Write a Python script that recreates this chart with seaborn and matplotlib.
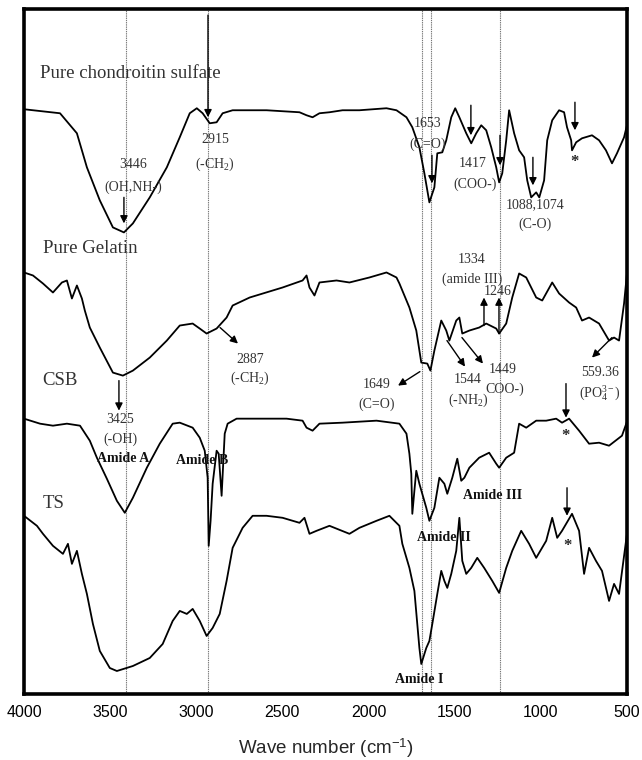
import matplotlib
matplotlib.use("Agg")
import matplotlib.pyplot as plt
import seaborn as sns
import pandas as pd

# FTIR spectra (wavenumber in cm-1, transmittance in arbitrary stacked units)
cs_wn = [4000, 3791, 3693, 3635, 3560, 3484, 3420, 3368, 3270, 3171, 3096, 3038, 2997, 2963,
         2922, 2882, 2847, 2789, 2592, 2401, 2360, 2325, 2285, 2227, 2151, 2053, 1896, 1838,
         1780, 1746, 1705, 1676, 1647, 1618, 1601, 1572, 1549, 1520, 1497, 1473, 1433, 1404,
         1375, 1346, 1317, 1288, 1259, 1242, 1224, 1201, 1184, 1155, 1126, 1097, 1079, 1056,
         1027, 1009, 981, 963, 934, 894, 865, 848, 824, 819, 795, 761, 703, 662, 622, 587,
         558, 517, 500]
cs_int = [584, 580, 560, 526, 493, 466, 461, 470, 496, 526, 556, 580, 585, 580,
          570, 571, 580, 583, 583, 581, 578, 576, 580, 581, 583, 583, 585, 583,
          576, 566, 546, 520, 491, 506, 540, 541, 553, 576, 585, 576, 560, 550,
          560, 568, 563, 546, 526, 511, 520, 553, 583, 560, 543, 536, 513, 496,
          501, 496, 513, 553, 573, 583, 581, 566, 553, 543, 551, 555, 558, 553, 543, 530,
          540, 556, 568]

gel_wn = [4000, 3948, 3890, 3832, 3780, 3751, 3722, 3693, 3664, 3647, 3618, 3560, 3484, 3426,
          3368, 3270, 3171, 3096, 3021, 2980, 2940, 2882, 2824, 2789, 2690, 2499, 2383, 2360,
          2343, 2314, 2285, 2186, 2111, 1995, 1896, 1838, 1821, 1763, 1723, 1694, 1659, 1641,
          1618, 1578, 1549, 1531, 1491, 1473, 1456, 1415, 1358, 1317, 1259, 1242, 1201, 1166,
          1126, 1085, 1027, 992, 934, 894, 836, 795, 761, 720, 662, 604, 575, 546, 517, 500]
gel_int = [421, 418, 410, 401, 411, 413, 395, 408, 395, 383, 366, 346, 321, 318,
           323, 336, 353, 368, 370, 365, 360, 365, 376, 388, 396, 406, 413, 418,
           406, 398, 411, 413, 411, 416, 421, 416, 410, 386, 363, 331, 330, 323,
           343, 373, 363, 353, 373, 376, 360, 363, 366, 370, 365, 360, 370, 396,
           420, 416, 396, 393, 411, 400, 391, 386, 373, 376, 370, 353, 356, 353, 390, 420]

csb_wn = [4000, 3907, 3832, 3751, 3675, 3618, 3577, 3519, 3461, 3415, 3368, 3287, 3212, 3137,
          3096, 3021, 2980, 2951, 2934, 2928, 2917, 2905, 2882, 2870, 2853, 2835, 2818, 2766,
          2476, 2383, 2360, 2325, 2285, 2151, 1954, 1821, 1780, 1763, 1752, 1746, 1734, 1723,
          1705, 1665, 1647, 1618, 1589, 1560, 1543, 1514, 1485, 1462, 1444, 1415, 1358, 1300,
          1259, 1242, 1201, 1155, 1143, 1126, 1085, 1027, 969, 911, 877, 836, 778, 720, 662,
          604, 529, 500]
csb_int = [275, 270, 268, 270, 268, 253, 236, 215, 193, 181, 196, 226, 250, 270,
           271, 266, 256, 243, 216, 148, 173, 210, 243, 240, 198, 260, 270, 275,
           275, 273, 266, 263, 270, 271, 273, 270, 260, 240, 220, 180, 203, 223,
           210, 186, 173, 186, 216, 210, 200, 216, 235, 213, 216, 226, 236, 241,
           230, 226, 236, 241, 253, 270, 266, 273, 273, 275, 271, 275, 263, 250, 251,
           248, 258, 272]

ts_wn = [4000, 3925, 3890, 3832, 3774, 3745, 3722, 3693, 3664, 3635, 3600, 3560, 3502, 3461,
         3368, 3270, 3195, 3137, 3096, 3055, 3021, 2980, 2940, 2905, 2864, 2824, 2789, 2731,
         2673, 2592, 2499, 2401, 2372, 2343, 2302, 2227, 2111, 2053, 1954, 1879, 1821, 1804,
         1763, 1734, 1705, 1694, 1665, 1647, 1630, 1601, 1578, 1560, 1543, 1520, 1491, 1473,
         1456, 1433, 1404, 1369, 1329, 1282, 1242, 1201, 1166, 1114, 1068, 1027, 969, 934,
         905, 877, 819, 778, 749, 720, 680, 645, 604, 575, 546, 500]
ts_int = [178, 168, 160, 148, 140, 150, 130, 143, 120, 100, 70, 43, 26, 23,
          28, 36, 50, 73, 83, 80, 85, 73, 58, 66, 80, 113, 146, 166,
          178, 178, 176, 171, 176, 160, 163, 168, 160, 166, 173, 178, 168, 150,
          126, 103, 46, 30, 46, 53, 70, 100, 123, 113, 106, 120, 143, 176,
          133, 120, 126, 136, 126, 113, 101, 126, 143, 163, 150, 136, 153, 176,
          156, 163, 180, 163, 120, 146, 133, 123, 93, 110, 100, 160]

sample_names = ["Pure chondroitin sulfate", "Pure Gelatin", "CSB", "TS"]
reference_lines = [3410, 2930, 1690, 1635, 1235]
x_ticks = [4000, 3500, 3000, 2500, 2000, 1500, 1000, 500]

frames = []
for name, wn, val in zip(sample_names,
                         [cs_wn, gel_wn, csb_wn, ts_wn],
                         [cs_int, gel_int, csb_int, ts_int]):
    frames.append(pd.DataFrame({"wavenumber": wn, "intensity": val, "sample": name}))
spectra = pd.concat(frames, ignore_index=True)

sns.set_style("white")
plt.rcParams["font.family"] = ["Liberation Serif", "DejaVu Serif"]
plt.rcParams["mathtext.fontset"] = "custom"
plt.rcParams["mathtext.rm"] = "Liberation Serif"
plt.rcParams["mathtext.it"] = "Liberation Serif:italic"
plt.rcParams["mathtext.bf"] = "Liberation Serif:bold"
plt.rcParams["mathtext.sf"] = "Liberation Sans"

fig = plt.figure(figsize=(6.42, 7.6), dpi=100)
ax = fig.add_axes([0.0374, 0.0868, 0.9392, 0.9012])

for x in reference_lines:
    ax.axvline(x, color="#777777", lw=0.8, ls=(0, (1.2, 0.8)), zorder=1)

sns.lineplot(data=spectra, x="wavenumber", y="intensity", units="sample",
             estimator=None, sort=False, color="black", lw=1.3, ax=ax, zorder=3)

ax.set_xlim(4000, 500)
ax.set_ylim(0, 684)
ax.set_xticks(x_ticks)
ax.set_xticklabels([str(t) for t in x_ticks], family="Liberation Sans", fontsize=11.5)
ax.set_yticks([])
ax.set_ylabel("")
ax.set_xlabel(r"Wave number (cm$^{\mathsf{-1}}$)", family="Liberation Sans",
              fontsize=13.5, labelpad=12)
ax.tick_params(axis="x", direction="in", length=5, width=1.5, pad=8, colors="black")
for sp in ax.spines.values():
    sp.set_linewidth(2.6)
    sp.set_color("black")

txt = "#333333"
lab_fs = 13.5
ann_fs = 10

# sample names
ax.text(3907, 620, "Pure chondroitin sulfate", fontsize=lab_fs, color=txt, va="center")
ax.text(3890, 445, "Pure Gelatin", fontsize=lab_fs, color=txt, va="center")
ax.text(3896, 313, "CSB", fontsize=lab_fs, color=txt, va="center")
ax.text(3890, 190, "TS", fontsize=lab_fs, color=txt, va="center")

arrow = dict(arrowstyle="-|>", color="black", lw=1.0, mutation_scale=11,
             shrinkA=0, shrinkB=0)


def arr(x0, y0, x1, y1):
    ax.annotate("", xy=(x1, y1), xytext=(x0, y0), arrowprops=arrow, zorder=4)


def label(x, y, s):
    ax.text(x, y, s, fontsize=ann_fs, color=txt, ha="center",
            va="center_baseline", zorder=5)


def star(x, y):
    ax.text(x, y, "*", fontsize=12, fontweight="bold", ha="center", va="center")


# chondroitin sulfate bands
label(3367, 530, "3446")
label(3367, 508, "(OH,NH-)")
arr(3420, 496, 3420, 470)
label(2891, 555, "2915")
label(2891, 532, "(-CH$_2$)")
arr(2932, 678, 2932, 576)
label(1655, 571, "1653")
label(1655, 551, "(C=O)")
arr(1632, 538, 1632, 510)
arr(1406, 588, 1406, 558)
label(1395, 531, "1417")
label(1382, 511, "(COO-)")
arr(1237, 558, 1237, 528)
arr(1046, 536, 1046, 508)
label(1034, 490, "1088,1074")
label(1034, 471, "(C-O)")
arr(802, 591, 802, 563)
star(802, 531)

# gelatin bands
label(2688, 336, "2887")
label(2688, 318, "(-CH$_2$)")
arr(2862, 366, 2758, 350)
label(3443, 276, "3425")
label(3443, 256, "(-OH)")
arr(3449, 313, 3449, 283)
label(1400, 435, "1334")
label(1400, 416, "(amide III)")
label(1249, 403, "1246")
arr(1330, 368, 1330, 396)
arr(1243, 360, 1243, 396)
label(1951, 311, "1649")
label(1951, 291, "(C=O)")
arr(1702, 322, 1829, 308)
label(1423, 316, "1544")
label(1423, 296, "(-NH$_2$)")
arr(1545, 353, 1440, 327)
label(1220, 326, "1449")
label(1208, 306, "COO-)")
arr(1458, 356, 1336, 330)
label(657, 323, "559.36")
label(657, 303, "(PO$_4^{3-}$)")
arr(587, 356, 703, 336)

# CSB / TS assignments
bold = dict(fontsize=ann_fs, fontweight="bold", color="#111111", ha="center",
            va="center", zorder=5)
ax.text(3425, 235, "Amide A", **bold)
ax.text(2967, 233, "Amide B", **bold)
ax.text(1278, 198, "Amide III", **bold)
ax.text(1562, 156, "Amide II", **bold)
ax.text(1707, 15, "Amide I", **bold)
arr(854, 310, 854, 276)
star(854, 258)
arr(848, 206, 848, 178)
star(848, 148)

fig.savefig("out.png", dpi=100)
